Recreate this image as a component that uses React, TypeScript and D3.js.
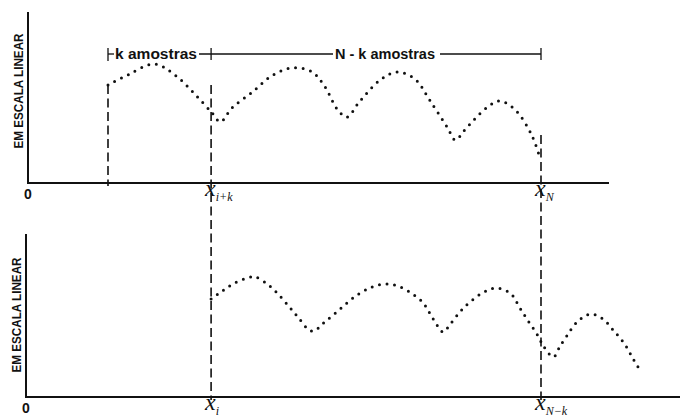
import React from "react";
import * as d3 from "d3";

// Sample positions (in samples, 0 = first sample of the record) and amplitudes
const TOP_SAMPLES = [0, 2.0, 4.5, 6.5, 8.5, 10.1, 10.9, 12.0, 14.0, 16.0, 18.0, 19.8, 21.0, 22.3, 23.2, 24.3, 26.4, 28.1, 29.8, 31.2, 32.9, 33.7, 34.6, 36.8, 38.0, 39.5, 41.1, 41.9];
const TOP_AMPS = [57.6, 63.8, 70.0, 63.5, 51.8, 41.2, 35.9, 44.0, 53.5, 63.5, 67.8, 65.3, 57.0, 42.9, 38.8, 47.1, 60.6, 65.3, 61.0, 48.8, 32.9, 25.3, 31.2, 44.7, 48.2, 43.0, 28.2, 14.7];

const BOTTOM_SAMPLES = [10, 11.1, 12.3, 13.8, 14.3, 15.3, 16.4, 17.6, 18.5, 19.5, 20.0, 20.9, 22.3, 23.9, 25.6, 26.9, 28.1, 29.4, 30.5, 31.2, 31.9, 32.5, 33.2, 34.4, 36.3, 37.7, 39.1, 39.9, 40.7, 41.6, 42.3, 43.2, 43.8, 44.5, 45.5, 46.8, 48.0, 49.0, 50.1, 50.9, 51.7];
const BOTTOM_AMPS = [57.6, 62.4, 67.1, 70.6, 70.6, 67.1, 61.2, 52.9, 46.5, 39.4, 38.8, 43.5, 50.6, 58.8, 64.7, 66.5, 65.3, 61.2, 55.9, 49.4, 42.4, 38.2, 42.9, 51.8, 61.2, 64.1, 60.6, 52.9, 45.3, 37.1, 29.4, 23.5, 29.4, 35.9, 44.1, 48.8, 45.9, 39.4, 31.2, 22.9, 14.7];

// Window boundaries (samples)
const K_START = 0;
const I_PLUS_K = 10;
const N_END = 42;

// Heights where the dashed markers start (amplitude units)
const MARK_START_LEFT = 57.6;
const MARK_START_MID = 57.6;
const MARK_START_RIGHT = 28.2;

const Y_LABEL = "EM ESCALA LINEAR";
const BRACKET_K = "k amostras";
const BRACKET_NK = "N - k amostras";

const W = 692;
const H = 419;

export default function App() {
  const x = d3.scaleLinear().domain([0, 42]).range([108, 541]);
  const yTop = d3.scaleLinear().domain([0, 100]).range([183, 13]);
  const yBot = d3.scaleLinear().domain([0, 100]).range([397, 227]);

  const topPts: [number, number][] = TOP_SAMPLES.map((s, i) => [x(s), yTop(TOP_AMPS[i])]);
  const botPts: [number, number][] = BOTTOM_SAMPLES.map((s, i) => [x(s), yBot(BOTTOM_AMPS[i])]);
  const line = d3.line().curve(d3.curveCatmullRom.alpha(0.5));

  const ink = "#111";
  const sans = "'Liberation Sans', Arial, sans-serif";
  const serif = "'Liberation Serif', 'Times New Roman', serif";

  const dotted = {
    fill: "none",
    stroke: ink,
    strokeWidth: 3,
    strokeLinecap: "round" as const,
    strokeDasharray: "0 7.6",
  };
  const dashed = { stroke: ink, strokeWidth: 1.6, strokeDasharray: "9 4.5" };

  const topAxisY = yTop(0);
  const botAxisY = yBot(0);
  const bracketY = 54;

  const xLabel = (cx: number, by: number, sub: string) => (
    <text x={cx - 6} y={by} fontFamily={serif} fontStyle="italic" fill={ink}>
      <tspan fontSize={24}>x</tspan>
      <tspan fontSize={12} dy={4.5}>{sub}</tspan>
    </text>
  );

  return (
    <svg width={W} height={H} style={{ position: "absolute", left: 0, top: 0, background: "#fff" }}>
      <rect width={W} height={H} fill="#fff" />

      {/* top panel axes */}
      <line x1={28} x2={28} y1={12} y2={topAxisY} stroke={ink} strokeWidth={2} />
      <line x1={27} x2={609} y1={topAxisY} y2={topAxisY} stroke={ink} strokeWidth={2} />
      <text x={28} y={199} textAnchor="middle" fontFamily={sans} fontWeight="bold" fontSize={14} fill={ink}>0</text>
      <text
        transform={`translate(23, ${91}) rotate(-90)`}
        textAnchor="middle"
        fontFamily={sans}
        fontWeight="bold"
        fontSize={13.5}
        textLength={115}
        lengthAdjust="spacingAndGlyphs"
        fill={ink}
      >{Y_LABEL}</text>

      {/* bottom panel axes */}
      <line x1={26} x2={26} y1={234} y2={botAxisY} stroke={ink} strokeWidth={2} />
      <line x1={25} x2={680} y1={botAxisY} y2={botAxisY} stroke={ink} strokeWidth={2} />
      <text x={26} y={413} textAnchor="middle" fontFamily={sans} fontWeight="bold" fontSize={14} fill={ink}>0</text>
      <text
        transform={`translate(21, ${315}) rotate(-90)`}
        textAnchor="middle"
        fontFamily={sans}
        fontWeight="bold"
        fontSize={13.5}
        textLength={115}
        lengthAdjust="spacingAndGlyphs"
        fill={ink}
      >{Y_LABEL}</text>

      {/* dashed window markers */}
      <line x1={x(K_START)} x2={x(K_START)} y1={yTop(MARK_START_LEFT)} y2={topAxisY + 3} {...dashed} />
      <line x1={x(I_PLUS_K)} x2={x(I_PLUS_K)} y1={yTop(MARK_START_MID)} y2={botAxisY + 3} {...dashed} />
      <line x1={x(N_END)} x2={x(N_END)} y1={yTop(MARK_START_RIGHT)} y2={botAxisY + 3} {...dashed} />

      {/* bracket with sample counts */}
      <line x1={x(K_START)} x2={x(K_START)} y1={bracketY - 6} y2={bracketY + 7} stroke={ink} strokeWidth={1.3} />
      <line x1={x(K_START)} x2={x(K_START) + 6} y1={bracketY} y2={bracketY} stroke={ink} strokeWidth={1.3} />
      <text x={115} y={bracketY + 5} fontFamily={sans} fontWeight="bold" fontSize={14.5} textLength={82} lengthAdjust="spacingAndGlyphs" fill={ink}>{BRACKET_K}</text>
      <line x1={199} x2={333} y1={bracketY} y2={bracketY} stroke={ink} strokeWidth={1.3} />
      <line x1={x(I_PLUS_K)} x2={x(I_PLUS_K)} y1={bracketY - 6} y2={bracketY + 6} stroke={ink} strokeWidth={1.3} />
      <text x={335} y={bracketY + 5} fontFamily={sans} fontWeight="bold" fontSize={14.5} textLength={100} lengthAdjust="spacingAndGlyphs" fill={ink}>{BRACKET_NK}</text>
      <line x1={440} x2={x(N_END)} y1={bracketY} y2={bracketY} stroke={ink} strokeWidth={1.3} />
      <line x1={x(N_END)} x2={x(N_END)} y1={bracketY - 6} y2={bracketY + 6} stroke={ink} strokeWidth={1.3} />

      {/* dotted signals */}
      <path d={line(topPts) || ""} {...dotted} />
      <path d={line(botPts) || ""} {...dotted} />

      {/* sample labels */}
      {xLabel(x(I_PLUS_K), 196, "i+k")}
      {xLabel(x(N_END), 196, "N")}
      {xLabel(x(I_PLUS_K), 410, "i")}
      {xLabel(x(N_END), 410, "N−k")}
    </svg>
  );
}
